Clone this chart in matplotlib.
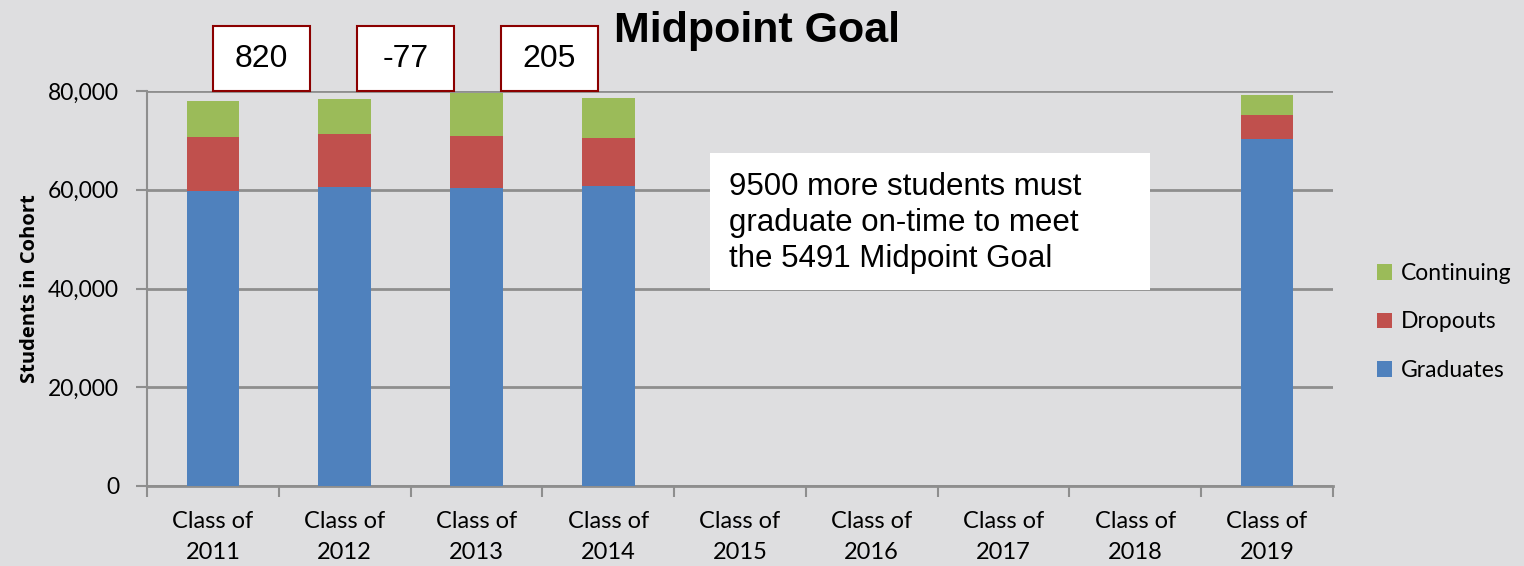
import matplotlib.pyplot as plt
from matplotlib.patches import Rectangle
import numpy as np

# Cohort data
classes = ["Class of\n2011", "Class of\n2012", "Class of\n2013", "Class of\n2014",
           "Class of\n2015", "Class of\n2016", "Class of\n2017", "Class of\n2018",
           "Class of\n2019"]
graduates = [59700, 60500, 60400, 60700, 0, 0, 0, 0, 70200]
dropouts = [10900, 10700, 10400, 9700, 0, 0, 0, 0, 5000]
continuing = [7400, 7200, 8700, 8200, 0, 0, 0, 0, 4000]
box_values = ["820", "-77", "205"]
note = "9500 more students must\ngraduate on-time to meet\nthe 5491 Midpoint Goal"

bg = "#DEDEE0"
grid_c = "#8E8E8E"
c_grad, c_drop, c_cont = "#4F81BD", "#C0504D", "#9BBB59"

fig = plt.figure(figsize=(15.24, 5.66), dpi=100, facecolor=bg)
ax = fig.add_axes([147 / 1524, 1 - 486 / 566, (1333 - 147) / 1524, (486 - 91) / 566])
ax.set_facecolor(bg)

x = np.arange(len(classes))
g = np.array(graduates)
d = np.array(dropouts)
c = np.array(continuing)
w = 0.4
ax.bar(x, g, w, color=c_grad, label="Graduates", zorder=3)
ax.bar(x, d, w, bottom=g, color=c_drop, label="Dropouts", zorder=3)
ax.bar(x, c, w, bottom=g + d, color=c_cont, label="Continuing", zorder=3)

ax.set_xlim(-0.5, len(classes) - 0.5)
ax.set_ylim(0, 80000)
ax.set_yticks(range(0, 80001, 20000))
ax.set_yticklabels([f"{v:,}" for v in range(0, 80001, 20000)], fontsize=16.5, family="Lato")
ax.yaxis.grid(True, color=grid_c, linewidth=2, zorder=0)
ax.tick_params(axis="y", length=8, width=1.5, color=grid_c, direction="out", pad=12)

# category labels centred, tick marks at boundaries
ax.set_xticks(np.arange(len(classes) + 1) - 0.5)
ax.set_xticklabels([])
ax.tick_params(axis="x", length=8, width=1.5, color=grid_c, direction="out")
for i, lab in enumerate(classes):
    ax.text(i, -5000, lab, ha="center", va="top", fontsize=17, family="Lato",
            linespacing=1.6)

for s in ["top", "right"]:
    ax.spines[s].set_visible(False)
ax.spines["left"].set_color(grid_c)
ax.spines["left"].set_linewidth(1.5)
ax.spines["bottom"].set_color(grid_c)
ax.spines["bottom"].set_linewidth(2)

ax.set_ylabel("Students in Cohort", fontsize=14.5, fontweight="bold", family="Open Sans",
              labelpad=6)

fig.text(757 / 1524, 1 - 31 / 566, "Midpoint Goal", ha="center", va="center",
         fontsize=31, fontweight="bold", family="Liberation Sans")

# value boxes above first three bars
for i, v in enumerate(box_values):
    x0 = (213 + i * 144) / 1524
    rect = Rectangle((x0, 1 - 91 / 566), 97 / 1524, 65 / 566, transform=fig.transFigure,
                     facecolor="white", edgecolor="#8B0000", linewidth=1.5, zorder=5)
    fig.patches.append(rect)
    fig.text(x0 + 48.5 / 1524, 1 - 59 / 566, v, ha="center", va="center", fontsize=23,
             family="Liberation Sans", zorder=6)

# note box
rect = Rectangle((710 / 1524, 1 - 290 / 566), 440 / 1524, 137 / 566, transform=fig.transFigure,
                 facecolor="white", edgecolor="none", zorder=5)
fig.patches.append(rect)
fig.text(729 / 1524, 1 - 223 / 566, note, ha="left", va="center", fontsize=22.5,
         family="Liberation Sans", linespacing=1.28, zorder=6)

# legend
handles, labels = ax.get_legend_handles_labels()
fig.legend(handles[::-1], labels[::-1], loc="center left",
           bbox_to_anchor=(1356 / 1524, 1 - 322 / 566), frameon=False,
           prop={"family": "Lato", "size": 16.5}, handlelength=0.65, handleheight=0.65,
           labelspacing=1.2, handletextpad=0.4)

fig.savefig("out.png", dpi=100, facecolor=bg)
